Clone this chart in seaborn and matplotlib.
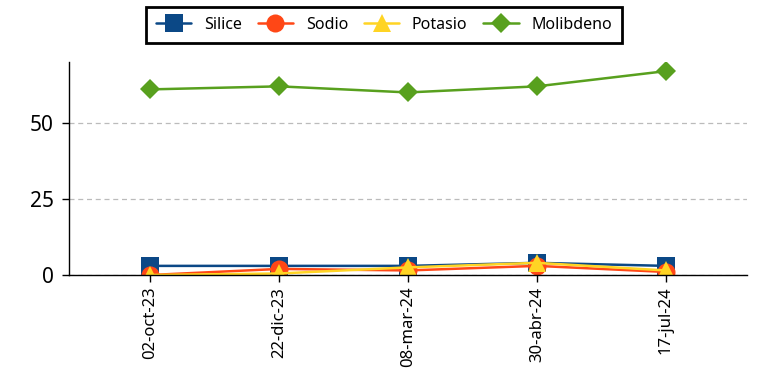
import matplotlib
matplotlib.use("Agg")
import matplotlib.pyplot as plt
import seaborn as sns
import pandas as pd

fechas = ["02-oct-23", "22-dic-23", "08-mar-24", "30-abr-24", "17-jul-24"]
silice = [3, 3, 3, 4, 3]
sodio = [0, 2, 1.5, 3, 1]
potasio = [0, 0.5, 2.5, 4, 1.5]
molibdeno = [61, 62, 60, 62, 67]

series = ["Silice", "Sodio", "Potasio", "Molibdeno"]
colores = {"Silice": "#0B4886", "Sodio": "#FF4716", "Potasio": "#FFD424", "Molibdeno": "#58A01E"}
marcadores = {"Silice": "s", "Sodio": "o", "Potasio": "^", "Molibdeno": "D"}
tamanos = {"Silice": 13, "Sodio": 13, "Potasio": 13, "Molibdeno": 10.5}

df = pd.DataFrame({
    "fecha": fechas * 4,
    "valor": silice + sodio + potasio + molibdeno,
    "elemento": [s for s in series for _ in fechas],
})
df["x"] = df["fecha"].map({f: i for i, f in enumerate(fechas)})

sns.set_style("white")
plt.rcParams["font.family"] = ["Noto Sans", "DejaVu Sans"]
plt.rcParams["text.color"] = "black"
plt.rcParams["xtick.color"] = "black"
plt.rcParams["ytick.color"] = "black"

fig = plt.figure(figsize=(7.59, 3.68), dpi=100)
ax = fig.add_axes([0.0909, 0.2527, 0.8933, 0.5788])

for s in series:
    sub = df[df["elemento"] == s]
    sns.lineplot(data=sub, x="x", y="valor", ax=ax, color=colores[s],
                 marker=marcadores[s], markersize=tamanos[s],
                 markeredgewidth=0, linewidth=1.8, label=s, sort=False)

ax.set_xlim(-0.63, 4.63)
ax.set_ylim(0, 70)
ax.set_xticks(range(len(fechas)))
ax.set_xticklabels(fechas, rotation=90, fontsize=12)
ax.set_yticks([0, 25, 50])
ax.tick_params(axis="y", labelsize=15, length=5, width=1, pad=6, color="black", left=True)
ax.tick_params(axis="x", length=5, width=1, color="black", bottom=True)
ax.set_xlabel("")
ax.set_ylabel("")
ax.yaxis.grid(True, linestyle=(0, (4, 3)), color="#bbbbbb", linewidth=0.9)
ax.set_axisbelow(True)
for side in ["top", "right"]:
    ax.spines[side].set_visible(False)
for side in ["left", "bottom"]:
    ax.spines[side].set_color("black")
    ax.spines[side].set_linewidth(1)

handles, labels = ax.get_legend_handles_labels()
leg = ax.legend(handles, labels, loc="center", bbox_to_anchor=(0.506, 0.932),
                bbox_transform=fig.transFigure, ncol=4, fontsize=11.5,
                frameon=True, fancybox=False, framealpha=1, handlelength=2.2,
                columnspacing=1.0, handletextpad=0.8, borderpad=0.6)
leg.get_frame().set_edgecolor("black")
leg.get_frame().set_linewidth(2)

fig.savefig("out.png", dpi=100)
